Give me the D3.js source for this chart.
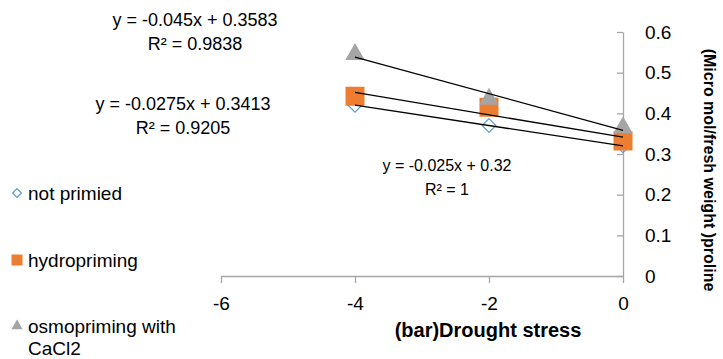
<!DOCTYPE html>
<html>
<head>
<meta charset="utf-8">
<script src="https://cdn.jsdelivr.net/npm/d3@7"></script>
<style>
  body { margin: 0; background: #fff; }
  svg { font-family: "Liberation Sans", Arial, sans-serif; }
</style>
</head>
<body>
<svg id="chart" width="723" height="359"></svg>
<script>
// drought stress levels (bar)
const stress = [-4, -2, 0]
const notPrimed = [0.42, 0.37, 0.32]
const hydro = [0.442, 0.415, 0.332]
const osmo = [0.545, 0.435, 0.365]

const xTicks = [-6, -4, -2, 0]
const yTicks = [0, 0.1, 0.2, 0.3, 0.4, 0.5, 0.6]

const seriesNames = ['not primied', 'hydropriming', 'osmopriming with CaCl2']
const trendText = [
  ['y = -0.025x + 0.32', 'R² = 1'],
  ['y = -0.0275x + 0.3413', 'R² = 0.9205'],
  ['y = -0.045x + 0.3583', 'R² = 0.9838']
]

const svg = d3.select('#chart')
const x = d3.scaleLinear().domain([-6, 0]).range([221, 623])
const y = d3.scaleLinear().domain([0, 0.6]).range([276, 32])
const axisColor = '#a6a6a6'

// x axis, ticks below
const gx = svg.append('g')
  .attr('transform', `translate(0, ${y(0)})`)
  .call(d3.axisBottom(x).tickValues(xTicks).tickSizeInner(7).tickSizeOuter(0).tickPadding(14))
gx.select('.domain').attr('stroke', axisColor).attr('stroke-width', 1.3)
gx.selectAll('.tick line').attr('stroke', axisColor).attr('stroke-width', 1.3)
gx.selectAll('.tick text').attr('font-size', 19).attr('fill', '#000')
  .attr('font-family', '"Liberation Sans", Arial, sans-serif')
  .text(d => d === 0 ? '0' : '-' + Math.abs(d))

// y axis at x = 0, ticks left, labels right
const gy = svg.append('g')
  .attr('transform', `translate(${x(0)}, 0)`)
  .call(d3.axisLeft(y).tickValues(yTicks).tickSizeInner(6).tickSizeOuter(0).tickFormat(d => d === 0 ? '0' : d3.format('.1f')(d)))
gy.select('.domain').attr('stroke', axisColor).attr('stroke-width', 1.3)
gy.selectAll('.tick line').attr('stroke', axisColor).attr('stroke-width', 1.3)
gy.selectAll('.tick text').attr('font-size', 19).attr('fill', '#000')
  .attr('font-family', '"Liberation Sans", Arial, sans-serif')
  .attr('text-anchor', 'start').attr('x', 22)

// axis titles
svg.append('text')
  .attr('x', 488).attr('y', 337)
  .attr('text-anchor', 'middle')
  .attr('font-size', 20).attr('font-weight', 'bold')
  .text('(bar)Drought stress')

svg.append('text')
  .attr('transform', `translate(704, 170) rotate(90)`)
  .attr('text-anchor', 'middle')
  .attr('font-size', 16).attr('font-weight', 'bold')
  .text('(Micro mol/fresh weight )proline')

// markers
const pts = (vals) => stress.map((s, i) => ({s, v: vals[i]}))
const series = [
  {vals: notPrimed, sym: d3.symbolDiamond2, size: 120, legend: 50, fill: 'none', stroke: '#5b9bd5'},
  {vals: hydro, sym: d3.symbolSquare, size: 361, legend: 121, fill: '#ed7d31', stroke: 'none'},
  {vals: osmo, sym: d3.symbolTriangle, size: 165, legend: 55, fill: '#a5a5a5', stroke: 'none'}
]

series.forEach(sr => {
  svg.append('g').selectAll('path')
    .data(pts(sr.vals))
    .join('path')
    .attr('transform', d => `translate(${x(d.s)}, ${y(d.v)})`)
    .attr('d', d3.symbol().type(sr.sym).size(sr.size))
    .attr('fill', sr.fill)
    .attr('stroke', sr.stroke)
    .attr('stroke-width', 1.2)
})

// linear trendlines from least squares
function fit(vals) {
  const mx = d3.mean(stress), my = d3.mean(vals)
  const b = d3.sum(stress, (s, i) => (s - mx) * (vals[i] - my)) / d3.sum(stress, s => (s - mx) ** 2)
  return {b, a: my - b * mx}
}
series.forEach(sr => {
  const f = fit(sr.vals)
  const x0 = d3.min(stress), x1 = d3.max(stress)
  svg.append('line')
    .attr('x1', x(x0)).attr('y1', y(f.a + f.b * x0))
    .attr('x2', x(x1)).attr('y2', y(f.a + f.b * x1))
    .attr('stroke', '#000').attr('stroke-width', 1.3)
})

// trendline equations
const labelPos = [[447, 171, 16], [183, 110, 18], [195, 26, 18]]
trendText.forEach((t, i) => {
  const [lx, ly, fs] = labelPos[i]
  const g = svg.append('text').attr('text-anchor', 'middle').attr('font-size', fs)
  g.append('tspan').attr('x', lx).attr('y', ly).text(t[0])
  g.append('tspan').attr('x', lx).attr('y', ly + 24).text(t[1])
})

// legend
const legendY = [193, 260, 326]
series.forEach((sr, i) => {
  svg.append('path')
    .attr('transform', `translate(17, ${legendY[i]})`)
    .attr('d', d3.symbol().type(sr.sym).size(sr.legend))
    .attr('fill', sr.fill).attr('stroke', sr.stroke).attr('stroke-width', 1.2)
  const t = svg.append('text').attr('font-size', 19)
  if (i === 2) {
    t.append('tspan').attr('x', 28).attr('y', legendY[i] + 7).text('osmopriming with')
    t.append('tspan').attr('x', 28).attr('y', legendY[i] + 29).text('CaCl2')
  } else {
    t.attr('x', 28).attr('y', legendY[i] + 7).text(seriesNames[i])
  }
})
</script>
</body>
</html>
